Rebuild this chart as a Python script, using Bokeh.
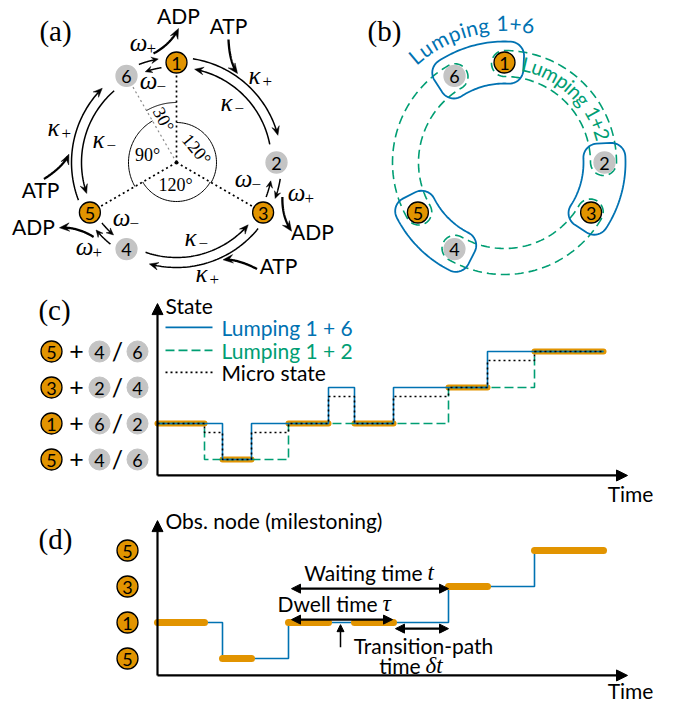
import math
import numpy as np
from bokeh.plotting import figure
from bokeh.layouts import column, row
from bokeh.models import Range1d, Arrow, NormalHead
from bokeh.core.properties import value
from bokeh.embed import file_html
from bokeh.resources import INLINE

# ---------------- data ----------------
node_labels = ["1", "2", "3", "4", "5", "6"]
node_angles = [90, 0, -30, -120, -150, 120]          # position on the ring (deg)
observed_nodes = ["1", "3", "5"]
lump16_pairs = [("6", "1"), ("2", "3"), ("4", "5")]
lump12_pairs = [("1", "2"), ("3", "4"), ("5", "6")]
angle_marks = [("30°", 90, 120), ("120°", -30, 90), ("120°", -150, -30), ("90°", 120, 210)]

# trajectory for panels (c) and (d)
t_breaks = [0, 2.35, 3.25, 4.7, 6.55, 8.55, 9.85, 11.8, 14.55, 16.5, 18.85, 22.3]
micro_state = [1, 0.75, 0, 0.75, 1, 1.75, 1, 1.75, 2, 2.75, 3]
lumped_16 = [1, 1, 0, 1, 1, 2, 1, 2, 2, 3, 3]
lumped_12 = [1, 0, 0, 0, 1, 1, 1, 1, 2, 2, 3]
milestone = [1, 1, 0, 0, 1, 1, 1, 1, 2, 2, 3]
on_observed = [True, False, True, False, True, False, True, False, True, False, True]

state_levels = [0, 1, 2, 3]
state_obs = ["5", "1", "3", "5"]
state_l16 = ["4", "6", "2", "4"]
state_l12 = ["6", "2", "4", "6"]

waiting_span = (6.7, 14.55)
dwell_span = (6.7, 11.75)
transition_span = (11.9, 14.55)
marker_time = 9.15

# ---------------- style ----------------
ORANGE = "#E29400"
BLUE = "#0072B2"
GREEN = "#009E73"
GRAY = "#C4C4C4"
SANS = "Lato"
SERIF = "Liberation Serif"
GREEK = "Liberation Serif"
FS = 21
RING_R = 100
ang_of = dict(zip(node_labels, node_angles))


def mkfig(w, h, xr, yr):
    p = figure(width=w, height=h, x_range=Range1d(*xr), y_range=Range1d(*yr),
               output_backend="svg", toolbar_location=None,
               x_axis_location=None, y_axis_location=None, min_border=0)
    p.xgrid.grid_line_color = None
    p.ygrid.grid_line_color = None
    p.outline_line_color = None
    return p


def txt(p, x, y, s, size, font=SANS, color="black", align="center",
        baseline="middle", angle=0.0, style="normal"):
    p.text(x=[x], y=[y], text=[s], text_font=value(font),
           text_font_size=value(f"{size}px"), text_color=color,
           text_align=align, text_baseline=baseline, angle=angle,
           text_font_style=style)


def pol(r, deg):
    a = math.radians(deg)
    return r * math.cos(a), r * math.sin(a)


def rot_pt(pt, deg):
    a = math.radians(deg)
    c, s = math.cos(a), math.sin(a)
    return pt[0] * c - pt[1] * s, pt[0] * s + pt[1] * c


def arc_xy(r, a0, a1, n=50):
    th = np.radians(np.linspace(a0, a1, n))
    return list(r * np.cos(th)), list(r * np.sin(th))


def head_poly(tx, ty, ang, L=9.0, W=3.8):
    ux, uy = math.cos(ang), math.sin(ang)
    qx, qy = -uy, ux
    bx, by = tx - L * ux, ty - L * uy
    nx, ny = tx - 0.62 * L * ux, ty - 0.62 * L * uy
    return [tx, bx + W * qx, nx, bx - W * qx], [ty, by + W * qy, ny, by - W * qy]


class Shapes:
    def __init__(self):
        self.lx, self.ly, self.hx, self.hy = [], [], [], []

    def arc_arrow(self, r, a0, a1, L=9.0, W=3.8):
        sgn = 1 if a1 > a0 else -1
        back = math.degrees(0.6 * L / r)
        x, y = arc_xy(r, a0, a1 - sgn * back)
        self.lx.append(x)
        self.ly.append(y)
        tx, ty = pol(r, a1)
        ang = math.radians(a1) + sgn * math.pi / 2
        hx, hy = head_poly(tx, ty, ang, L, W)
        self.hx.append(hx)
        self.hy.append(hy)

    def bez_arrow(self, P0, Q, P2, L=10.0, W=4.2):
        t = np.linspace(0, 0.9, 40)
        x = (1 - t) ** 2 * P0[0] + 2 * (1 - t) * t * Q[0] + t ** 2 * P2[0]
        y = (1 - t) ** 2 * P0[1] + 2 * (1 - t) * t * Q[1] + t ** 2 * P2[1]
        self.lx.append(list(x))
        self.ly.append(list(y))
        ang = math.atan2(P2[1] - Q[1], P2[0] - Q[0])
        hx, hy = head_poly(P2[0], P2[1], ang, L, W)
        self.hx.append(hx)
        self.hy.append(hy)

    def draw(self, p, width):
        p.multi_line(self.lx, self.ly, line_color="black", line_width=width)
        p.patches(self.hx, self.hy, fill_color="black", line_color="black", line_width=0.5)


def draw_nodes(p, size=21, fsize=18):
    xs = [pol(RING_R, a)[0] for a in node_angles]
    ys = [pol(RING_R, a)[1] for a in node_angles]
    fills = [ORANGE if n in observed_nodes else GRAY for n in node_labels]
    lines = ["black" if n in observed_nodes else GRAY for n in node_labels]
    p.scatter(xs, ys, size=size, fill_color=fills, line_color=lines, line_width=1.3)
    p.text(x=xs, y=[y - 0.5 for y in ys], text=node_labels, text_font=value(SANS),
           text_font_size=value(f"{fsize}px"), text_align="center", text_baseline="middle",
           text_color="black")


def sub_label(p, x, y, base, sub, size=25):
    txt(p, x - 4, y, base, size, font=GREEK, style="italic")
    txt(p, x + 4, y - 6, sub, 17, font=GREEK, align="left")


# ================= panel (a) =================
pa = mkfig(340, 290, (-176, 164), (-128, 162))

for lab, a in zip(node_labels, node_angles):
    if lab in observed_nodes:
        x1, y1 = pol(RING_R - 11, a)
        pa.line([0, x1], [0, y1], line_color="black", line_width=1.7, line_dash="2 3")
    elif lab == "6":
        x1, y1 = pol(RING_R - 10, a)
        pa.line([0, x1], [0, y1], line_color="#8c8c8c", line_width=1.2, line_dash="2 3")
pa.scatter([0], [0], size=3, color="black")

arc_r = {"30°": 60, "90°": 48}
for lab, a0, a1 in angle_marks:
    r = arc_r.get(lab, 40 if a0 == -30 else 39)
    x, y = arc_xy(r, a0, a1)
    pa.line(x, y, line_color="black", line_width=1.0)
txt(pa, -13, 43, "30°", 18, font=SERIF, angle=math.radians(-62))
txt(pa, 20, 13, "120°", 18, font=SERIF, angle=math.radians(-50))
txt(pa, -29, 8, "90°", 18, font=SERIF)
txt(pa, -1, -22, "120°", 18, font=SERIF)

thin = Shapes()
thick = Shapes()
for k in range(3):
    rot = -120 * k
    thin.arc_arrow(105, 81 + rot, 15 + rot)
    thin.arc_arrow(95, 11 + rot, 79 + rot)
    tm = 105 + rot
    thin.arc_arrow(105, tm + 6, tm - 5, L=7, W=3.2)
    thin.arc_arrow(96, tm - 6, tm + 4, L=7, W=3.2)
    P0, Q, P2 = [rot_pt(pt, rot) for pt in [(52, 123), (53, 100), (61, 89)]]
    thick.bez_arrow(P0, Q, P2)
    P0, Q, P2 = [rot_pt(pt, rot) for pt in [(-23, 109), (-5.5, 118.5), (2, 134)]]
    thick.bez_arrow(P0, Q, P2)
thin.draw(pa, 1.5)
thick.draw(pa, 2.3)

for (x, y) in [(52, 137), (102, -103), (-136, -27)]:
    txt(pa, x, y, "ATP", FS)
for (x, y) in [(2, 147), (136, -69), (-143, -64)]:
    txt(pa, x, y, "ADP", FS)
for (x, y) in [(82, 87), (29, -111), (-119, 35)]:
    sub_label(pa, x, y, "κ", "+")
for (x, y) in [(54, 60), (18, -75), (-74, 23)]:
    sub_label(pa, x, y, "κ", "−")
for (x, y) in [(-34, 120), (124, -30), (-88, -84)]:
    sub_label(pa, x, y, "ω", "+")
for (x, y) in [(-24, 82), (71, -16), (-51, -55)]:
    sub_label(pa, x, y, "ω", "−")

draw_nodes(pa)
txt(pa, -121, 132, "(a)", 29, font=SERIF)

# ================= panel (b) =================
pb = mkfig(333, 290, (-164, 169), (-128, 162))


def capsule(r, w, ta, tb):
    xs, ys = [], []
    x, y = arc_xy(r + w, ta, tb)
    xs += x; ys += y
    bx, by = pol(r, tb)
    phi = np.radians(np.linspace(tb, tb - 180, 25))
    xs += list(bx + w * np.cos(phi)); ys += list(by + w * np.sin(phi))
    x, y = arc_xy(r - w, tb, ta)
    xs += x; ys += y
    ax, ay = pol(r, ta)
    phi = np.radians(np.linspace(ta + 180, ta, 25))
    xs += list(ax + w * np.cos(phi)); ys += list(ay + w * np.sin(phi))
    return xs, ys


def blob(R1, R2, th1, th2, c):
    dth = math.degrees(c / ((R1 + R2) / 2))
    a1, a2 = th1 - dth, th2 + dth
    xs, ys = [], []

    def corner(rc, ac, p0, p1):
        cx, cy = pol(rc, ac)
        phi = np.radians(np.linspace(p0, p1, 12))
        xs.extend(list(cx + c * np.cos(phi)))
        ys.extend(list(cy + c * np.sin(phi)))

    x, y = arc_xy(R2, a1, a2, 30); xs += x; ys += y
    corner(R2 - c, a2, a2, a2 - 90)
    corner(R1 + c, a2, a2 - 90, a2 - 180)
    x, y = arc_xy(R1, a2, a1, 30); xs += x; ys += y
    corner(R1 + c, a1, a1 + 180, a1 + 90)
    corner(R2 - c, a1, a1 + 90, a1)
    return xs, ys


for a, b in lump12_pairs:
    ta = ang_of[a]
    tb = ang_of[b]
    while tb >= ta:
        tb -= 360
    x, y = capsule(99, 13, ta, tb)
    pb.patch(x, y, fill_color=None, line_color=GREEN, line_width=1.6, line_dash="9 5")

for a, b in lump16_pairs:
    ta = ang_of[a]
    tb = ang_of[b]
    while tb >= ta:
        tb -= 360
    x, y = blob(79, 121, ta + 11, tb - 11, 14)
    pb.patch(x, y, fill_color=None, line_color=BLUE, line_width=1.8)

draw_nodes(pb)

W_EM = {"L": 0.53, "u": 0.57, "m": 0.86, "p": 0.58, "i": 0.24, "n": 0.57,
        "g": 0.51, " ": 0.3, "1": 0.58, "+": 0.58, "6": 0.58, "2": 0.58}


def arc_text(p, s, r, a_first, a_last, color, size):
    w = np.array([W_EM.get(ch, 0.55) for ch in s])
    centers = np.cumsum(np.concatenate([[0], w[:-1]])) + w / 2
    f = (centers - centers[0]) / (centers[-1] - centers[0])
    ang = a_first + (a_last - a_first) * f
    keep = [i for i, ch in enumerate(s) if ch != " "]
    xs = [r * math.cos(math.radians(ang[i])) for i in keep]
    ys = [r * math.sin(math.radians(ang[i])) for i in keep]
    p.text(x=xs, y=ys, text=[s[i] for i in keep],
           angle=[math.radians(ang[i] - 90) for i in keep],
           text_font=value(SANS), text_font_size=value(f"{size}px"),
           text_color=color, text_align="center", text_baseline="middle")


arc_text(pb, "Lumping 1+6", 139, 130, 80, BLUE, 21)
arc_text(pb, "Lumping 1+2", 101, 77, 16, GREEN, 20)
txt(pb, -120, 132, "(b)", 29, font=SERIF)

# ================= panel (c) =================
pc = mkfig(673, 215, (-7.85, 25.8), (-1.278, 4.694))

obs_idx = [i for i, o in enumerate(on_observed) if o]
pc.segment(x0=[t_breaks[i] for i in obs_idx], x1=[t_breaks[i + 1] for i in obs_idx],
           y0=[micro_state[i] for i in obs_idx], y1=[micro_state[i] for i in obs_idx],
           line_color=ORANGE, line_width=6, line_cap="round")
pc.step(t_breaks, lumped_12 + [lumped_12[-1]], mode="after", line_color=GREEN,
        line_width=1.6, line_dash="9 4")
pc.step(t_breaks, lumped_16 + [lumped_16[-1]], mode="after", line_color=BLUE, line_width=1.6)
pc.step(t_breaks, micro_state + [micro_state[-1]], mode="after", line_color="black",
        line_width=1.6, line_dash="2 3")


def axes_arrows(p, y0, ytop, xtip):
    p.add_layout(Arrow(end=NormalHead(size=11, fill_color="black", line_color="black"),
                       x_start=0, y_start=y0, x_end=0, y_end=ytop,
                       line_width=2.2, line_color="black"))
    p.add_layout(Arrow(end=NormalHead(size=11, fill_color="black", line_color="black"),
                       x_start=0, y_start=y0, x_end=xtip, y_end=y0,
                       line_width=2.2, line_color="black"))


axes_arrows(pc, -0.444, 4.33, 23.5)
txt(pc, 0.4, 4.28, "State", FS, align="left")
txt(pc, 23.65, -0.94, "Time", FS)

leg = [("Lumping 1 + 6", BLUE, None, 3.67), ("Lumping 1 + 2", GREEN, "9 4", 3.03),
       ("Micro state", "black", "2 3", 2.42)]
for lab, col, dash, ly in leg:
    kw = {} if dash is None else {"line_dash": dash}
    pc.line([0.4, 2.75], [ly, ly], line_color=col, line_width=1.6, **kw)
    txt(pc, 3.2, ly, lab, FS, color=col, align="left")

pc.scatter([-5.3] * 4, state_levels, size=21, fill_color=ORANGE, line_color="black", line_width=1.3)
pc.scatter([-2.9] * 4 + [-1.0] * 4, state_levels + state_levels, size=21,
           fill_color=GRAY, line_color=GRAY)
pc.text(x=[-5.3] * 4 + [-2.9] * 4 + [-1.0] * 4,
        y=[v - 0.015 for v in state_levels * 3],
        text=state_obs + state_l16 + state_l12, text_font=value(SANS),
        text_font_size=value("18px"), text_align="center", text_baseline="middle")
pc.text(x=[-4.05] * 4 + [-2.0] * 4, y=state_levels * 2,
        text=["+"] * 4 + ["/"] * 4, text_font=value(SANS),
        text_font_size=value("25px"), text_align="center", text_baseline="middle")
txt(pc, -5.15, 4.14, "(c)", 29, font=SERIF)

# ================= panel (d) =================
pd_ = mkfig(673, 197, (-7.85, 25.8), (-1.222, 4.25))
pd_.step(t_breaks, milestone + [milestone[-1]], mode="after", line_color=BLUE, line_width=1.6)
pd_.segment(x0=[t_breaks[i] for i in obs_idx], x1=[t_breaks[i + 1] for i in obs_idx],
            y0=[milestone[i] for i in obs_idx], y1=[milestone[i] for i in obs_idx],
            line_color=ORANGE, line_width=7, line_cap="round")
axes_arrows(pd_, -0.47, 3.83, 23.5)
txt(pd_, 0.4, 3.83, "Obs. node (milestoning)", FS, align="left")
txt(pd_, 23.65, -0.89, "Time", FS)

pd_.scatter([-1.5] * 4, state_levels, size=21, fill_color=ORANGE, line_color="black", line_width=1.3)
pd_.text(x=[-1.5] * 4, y=[v - 0.015 for v in state_levels], text=state_obs,
         text_font=value(SANS), text_font_size=value("18px"),
         text_align="center", text_baseline="middle")


def dbl(p, x0, x1, y, size=9, width=2.2):
    p.add_layout(Arrow(x_start=x0, y_start=y, x_end=x1, y_end=y,
                       start=NormalHead(size=size, fill_color="black", line_color="black"),
                       end=NormalHead(size=size, fill_color="black", line_color="black"),
                       line_width=width, line_color="black"))


dbl(pd_, waiting_span[0], waiting_span[1], 1.94)
dbl(pd_, dwell_span[0], dwell_span[1], 1.08)
dbl(pd_, transition_span[0], transition_span[1], 0.83)
pd_.add_layout(Arrow(end=NormalHead(size=7, fill_color="black", line_color="black"),
                     x_start=marker_time, y_start=0.31, x_end=marker_time, y_end=0.94,
                     line_width=1.5, line_color="black"))

txt(pd_, 13.25, 2.39, "Waiting time", FS, align="right")
txt(pd_, 13.5, 2.39, "t", 23, font=GREEK, style="italic", align="left")
txt(pd_, 11.0, 1.53, "Dwell time", FS, align="right")
txt(pd_, 11.25, 1.53, "τ", 23, font=GREEK, style="italic", align="left")
txt(pd_, 13.3, 0.36, "Transition-path", FS)
txt(pd_, 13.15, -0.19, "time", FS, align="right")
txt(pd_, 13.4, -0.19, "δt", 23, font=GREEK, style="italic", align="left")
txt(pd_, -5.1, 3.33, "(d)", 29, font=SERIF)

layout = column(row(pa, pb), pc, pd_)
open("out.html", "w").write(file_html(layout, INLINE))
